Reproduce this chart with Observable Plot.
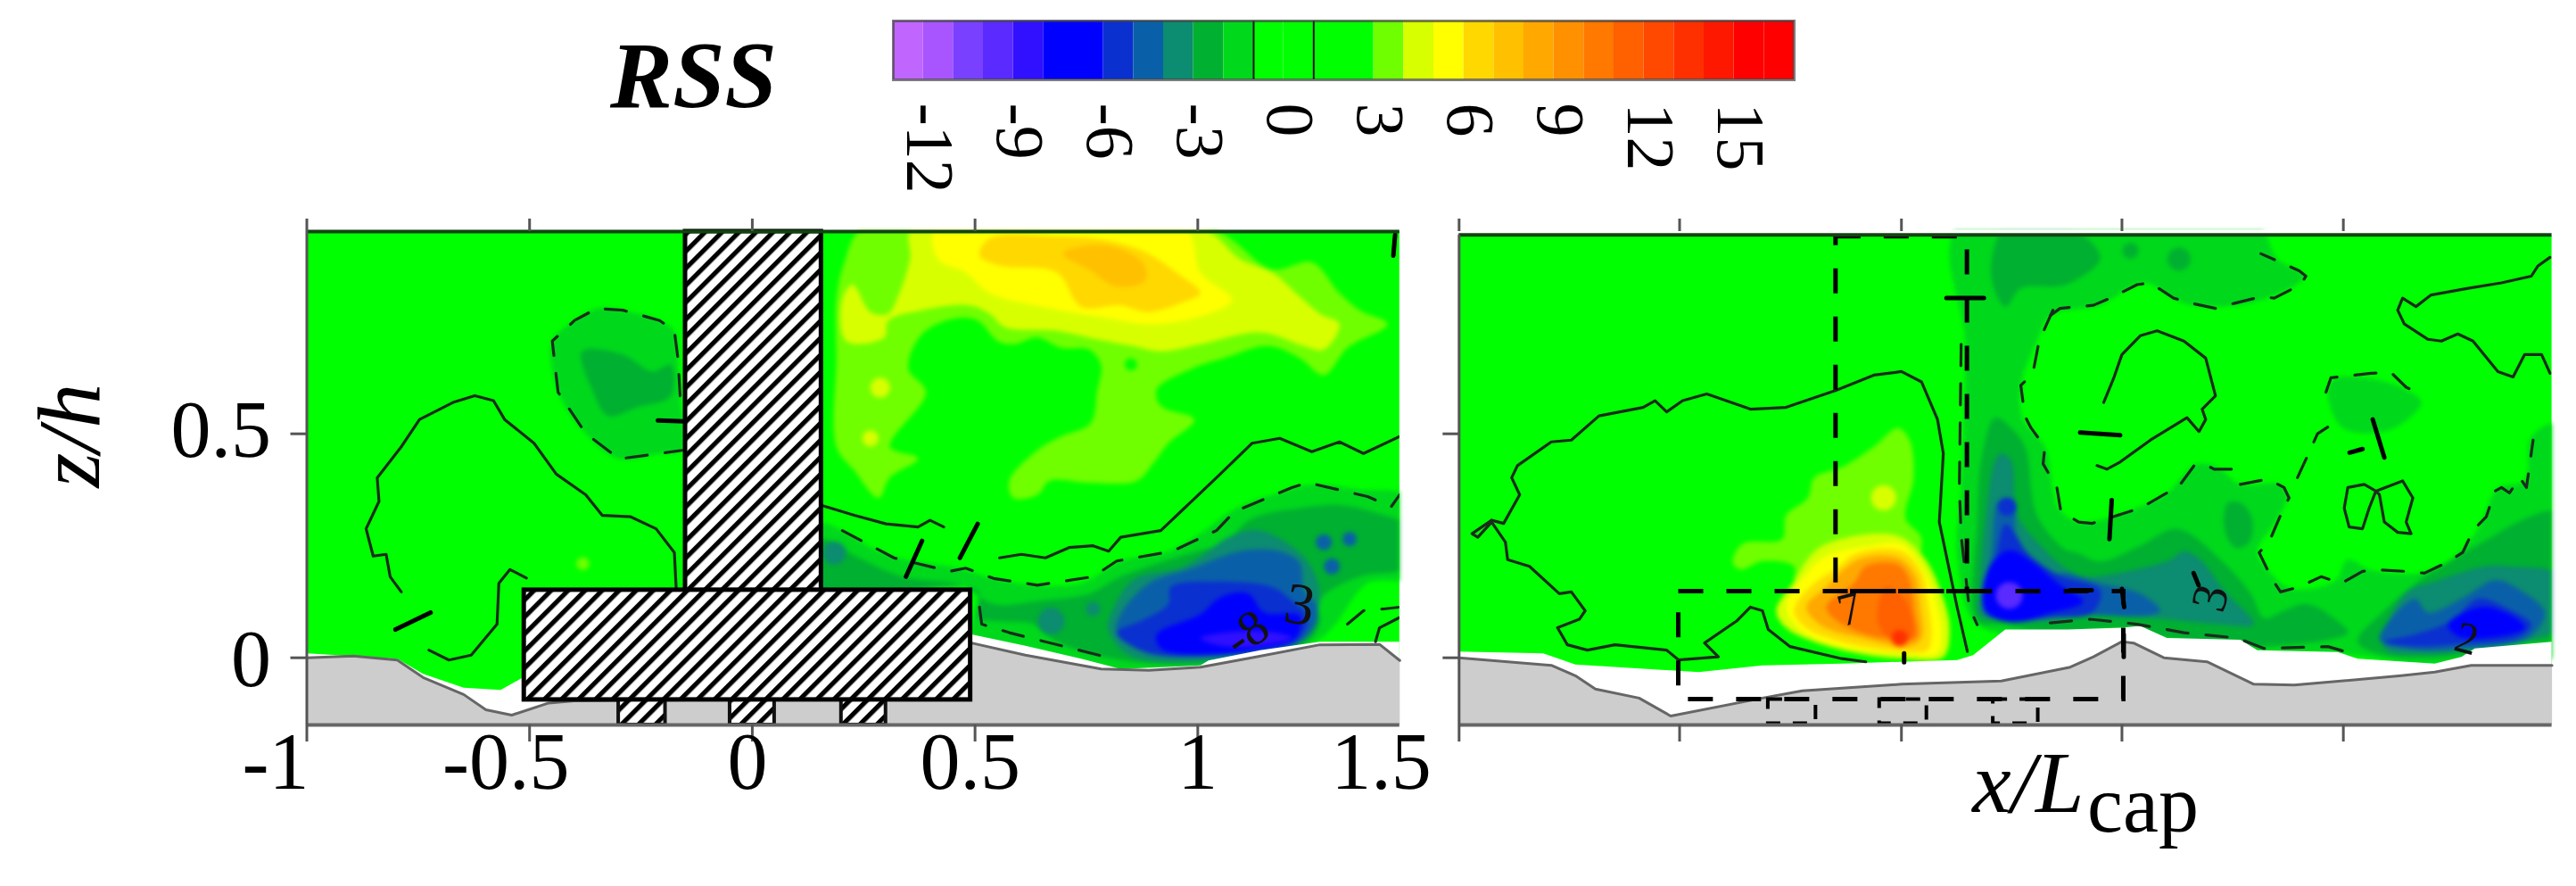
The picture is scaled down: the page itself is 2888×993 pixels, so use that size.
<!DOCTYPE html>
<html><head><meta charset="utf-8">
<script src="https://cdn.jsdelivr.net/npm/d3@7"></script>
<script src="https://cdn.jsdelivr.net/npm/@observablehq/plot@0.6"></script>
<style>
html,body{margin:0;padding:0;background:#fff;overflow:hidden}
svg{display:block}
</style></head><body><div id="c"></div>
<script>
// colour bar
const barEdges = d3.range(-13, 17);
const barThresholds = d3.range(-12, 17);
const barColors = ["#c066ff","#a855ff","#7a40ff","#5a2aff","#3010ff","#0000ff","#0000ff","#0a30d0","#0a60a8","#0c8c70","#00b030","#00d81c","#00ff00","#00ff00","#00ff00","#00ff00","#70ff00","#d8ff00","#ffff00","#ffd800","#ffc000","#ffa800","#ff9000","#ff7800","#ff6000","#ff4800","#ff3000","#ff1800","#ff0000","#ff0000"];
const barTicks = [-12,-9,-6,-3,0,3,6,9,12,15];
const barLines = [-1,1];

// axes
const xTicksLeft = [-1,-0.5,0,0.5,1];
const xTicksRight = [-1,-0.505,-0.007,0.488,0.985];
const xLabelText = ["-1","-0.5","0","0.5","1","1.5"];
const xLabelPos = [-1.07,-0.553,-0.011,0.489,1.0,1.412];
const yLabelText = ["0.5","0"];
const yLabelPos = [0.507,-0.006];

// left panel, positive band
const l3 = [[.251,.96],[.207,.883],[.189,.799],[.189,.669],[.189,.471],[.229,.418],[.283,.357],[.309,.403],[.372,.445],[.309,.471],[.390,.593],[.350,.646],[.381,.723],[.452,.757],[.506,.753],[.551,.707],[.586,.700],[.640,.715],[.693,.692],[.756,.688],[.783,.654],[.774,.593],[.760,.524],[.693,.494],[.640,.463],[.577,.395],[.586,.357],[.640,.364],[.667,.395],[.756,.391],[.863,.395],[.899,.433],[.934,.479],[.992,.532],[.917,.562],[.908,.600],[.988,.646],[1.059,.669],[1.158,.696],[1.229,.669],[1.283,.631],[1.336,.692],[1.426,.745],[1.363,.776],[1.318,.814],[1.256,.883],[1.167,.867],[1.024,.96]];
const l4 = [[.359,.96],[.354,.890],[.327,.806],[.305,.768],[.265,.772],[.225,.833],[.202,.799],[.211,.707],[.296,.715],[.305,.753],[.381,.776],[.488,.787],[.533,.768],[.568,.738],[.684,.730],[.774,.711],[.854,.696],[.917,.684],[1.006,.700],[1.122,.726],[1.167,.722],[1.238,.696],[1.283,.688],[1.318,.745],[1.274,.768],[1.229,.806],[1.167,.860],[1.095,.890],[1.006,.96]];
const l5 = [[.412,.96],[.417,.890],[.479,.860],[.533,.814],[.649,.784],[.783,.761],[.899,.745],[1.024,.768],[1.077,.799],[1.006,.860],[.970,.96]];
const l6 = [[.510,.898],[.559,.875],[.684,.860],[.738,.784],[.827,.787],[.890,.772],[.970,.795],[1.006,.814],[.952,.860],[.881,.906],[.792,.932],[.693,.940],[.533,.936]];
const l7 = [[.698,.902],[.756,.867],[.818,.829],[.881,.841],[.881,.875],[.827,.913],[.756,.921]];
// left panel, negative bands
const lp2 = [[-.162,.585],[-.167,.669],[-.175,.730],[-.208,.753],[-.291,.776],[-.349,.780],[-.399,.753],[-.449,.707],[-.436,.593],[-.374,.501],[-.299,.444],[-.208,.456],[-.158,.463]];
const lp3 = [[-.382,.684],[-.357,.593],[-.324,.540],[-.258,.559],[-.183,.585],[-.183,.654],[-.225,.639],[-.291,.677]];
const lb2 = [[.153,.299],[.202,.284],[.300,.231],[.461,.200],[.542,.177],[.640,.162],[.738,.166],[.827,.216],[.934,.238],[1.015,.284],[1.086,.334],[1.193,.372],[1.256,.387],[1.363,.376],[1.48,.357],[1.48,.181],[1.381,.166],[1.309,.075],[1.265,.036],[1.006,-.025],[.827,-.032],[.649,.014],[.497,.044],[.497,.151],[.153,.151]];
const lb3 = [[.153,.265],[.202,.242],[.336,.181],[.470,.162],[.542,.120],[.649,.128],[.756,.143],[.827,.181],[.961,.227],[1.059,.258],[1.122,.311],[1.229,.334],[1.318,.341],[1.390,.326],[1.48,.288],[1.48,.204],[1.363,.181],[1.274,.128],[1.274,.075],[1.238,.029],[1.015,-.013],[.827,-.005],[.684,.036],[.631,.075],[.542,.082],[.506,.090],[.506,.15],[.153,.15]];
const lb4 = [[.800,.082],[.854,.173],[.970,.204],[1.077,.273],[1.140,.284],[1.229,.235],[1.265,.181],[1.274,.128],[1.256,.075],[1.220,.029],[1.006,-.009],[.845,.006],[.800,.059]];
const lb5 = [[.818,.059],[.827,.097],[.890,.166],[.988,.200],[1.095,.238],[1.184,.238],[1.229,.212],[1.238,.151],[1.265,.120],[1.265,.075],[1.220,.029],[1.015,.002],[.881,.013]];
const lb6 = [[.818,.056],[.872,.082],[.934,.120],[.939,.158],[1.042,.170],[1.167,.158],[1.211,.128],[1.247,.090],[1.220,.036],[1.015,.006],[.881,.013]];
const lb7 = [[.908,.052],[1.006,.097],[1.051,.135],[1.113,.143],[1.149,.101],[1.229,.094],[1.220,.044],[1.122,.017],[1.006,.006],[.917,.021]];
const lb9 = [[1.006,.044],[1.095,.059],[1.175,.056],[1.211,.044],[1.122,.025],[1.042,.029]];

// right panel, hot blob
const r3 = [[-.015,.513],[-.069,.471],[-.141,.425],[-.203,.402],[-.217,.357],[-.266,.318],[-.275,.265],[-.364,.254],[-.386,.212],[-.368,.197],[-.319,.216],[-.248,.204],[-.248,.166],[-.230,.151],[-.007,.151],[.038,.265],[.002,.311],[.020,.402],[.011,.486]];
const r4 = [[-.288,.105],[-.248,.170],[-.212,.227],[-.176,.254],[-.069,.277],[-.007,.269],[.047,.219],[.083,.143],[.101,.067],[.087,.002],[-.007,-.002],[-.105,.010],[-.203,.036],[-.266,.067]];
const r5 = [[-.266,.113],[-.226,.181],[-.176,.227],[-.078,.250],[-.007,.254],[.038,.204],[.065,.143],[.083,.059],[.074,.010],[-.007,.010],[-.141,.025],[-.230,.059]];
const r6 = [[-.248,.105],[-.203,.166],[-.158,.196],[-.105,.234],[-.007,.238],[.038,.189],[.051,.128],[.060,.051],[.051,.017],[-.033,.017],[-.141,.036],[-.221,.067]];
const r8 = [[-.221,.113],[-.176,.158],[-.105,.219],[-.015,.223],[.025,.181],[.034,.120],[.038,.044],[.011,.025],[-.096,.044],[-.185,.071]];
const r10 = [[-.176,.113],[-.114,.166],[-.087,.204],[-.015,.208],[.011,.174],[.020,.113],[.025,.044],[-.051,.044],[-.141,.075]];
const r11 = [[-.060,.082],[-.042,.158],[.002,.128],[.016,.044],[-.033,.044]];
// right panel, negative bands
const rb2 = [[.119,.96],[.792,.96],[.837,.890],[.897,.852],[.815,.803],[.717,.784],[.627,.791],[.537,.837],[.439,.787],[.327,.764],[.297,.707],[.261,.608],[.266,.532],[.315,.471],[.346,.334],[.394,.303],[.537,.341],[.589,.368],[.657,.433],[.702,.425],[.754,.387],[.844,.387],[.859,.357],[.837,.311],[.792,.235],[.822,.189],[.867,.155],[.965,.170],[.995,.219],[1.047,.196],[1.152,.189],[1.227,.219],[1.287,.288],[1.332,.380],[1.392,.395],[1.407,.494],[1.48,.524],[1.48,.02],[1.190,-.017],[1.002,.006],[.777,.014],[.589,.036],[.488,.063],[.327,.052],[.163,.074],[.118,.227],[.127,.380],[.136,.700]];
const rb2b = [[.950,.593],[.965,.623],[1.047,.623],[1.122,.600],[1.160,.570],[1.107,.517],[1.040,.501],[.979,.517]];
const rt3 = [[.226,.96],[.194,.860],[.226,.784],[.261,.825],[.342,.829],[.372,.837],[.439,.890],[.409,.936],[.327,.96]];
const rl3 = [[.725,.345],[.72,.28],[.745,.245],[.775,.26],[.78,.31],[.755,.345]];
const rb3 = [[.154,.105],[.163,.303],[.172,.440],[.203,.536],[.235,.517],[.270,.471],[.297,.318],[.360,.242],[.387,.234],[.439,.215],[.529,.250],[.612,.288],[.709,.219],[.777,.143],[.807,.089],[.852,.105],[.905,.120],[.980,.075],[.995,.056],[.807,.025],[.589,.044],[.488,.063],[.327,.056],[.217,.074],[.168,.078]];
const rb4 = [[.168,.151],[.181,.303],[.203,.440],[.217,.456],[.239,.440],[.253,.318],[.306,.250],[.367,.196],[.402,.181],[.514,.196],[.597,.219],[.627,.238],[.664,.219],[.717,.151],[.784,.075],[.702,.075],[.552,.089],[.402,.093],[.327,.082],[.217,.082],[.168,.097]];
const rb5 = [[.172,.135],[.194,.227],[.212,.349],[.244,.349],[.253,.265],[.333,.189],[.364,.189],[.439,.166],[.529,.143],[.574,.105],[.537,.093],[.402,.097],[.327,.090],[.235,.086],[.181,.097]];
const rb6 = [[.176,.135],[.205,.225],[.226,.299],[.246,.280],[.275,.235],[.345,.185],[.44,.15],[.42,.10],[.327,.09],[.235,.08],[.185,.10]];
const rb7 = [[.175,.143],[.195,.21],[.235,.24],[.285,.215],[.345,.165],[.40,.125],[.327,.10],[.244,.08],[.185,.10]];
const rc3 = [[1.017,.036],[1.077,.105],[1.167,.181],[1.242,.227],[1.310,.265],[1.377,.303],[1.437,.326],[1.48,.326],[1.48,.051],[1.377,.032],[1.227,.002],[1.077,.006]];
const rc4 = [[1.122,.143],[1.190,.170],[1.302,.204],[1.362,.204],[1.48,.181],[1.48,.074],[1.392,.036],[1.265,.017],[1.167,.009],[1.077,.021]];
const rc5 = [[1.066,.040],[1.145,.132],[1.175,.101],[1.257,.136],[1.325,.173],[1.377,.154],[1.437,.101],[1.400,.044],[1.265,.021],[1.152,.017]];
const rc6 = [[1.077,.036],[1.145,.052],[1.227,.082],[1.287,.132],[1.347,.113],[1.407,.074],[1.377,.044],[1.227,.029],[1.145,.025]];
const rc7 = [[1.220,.075],[1.295,.113],[1.370,.090],[1.392,.066],[1.340,.048],[1.242,.048]];

// small patches: panel, x, z, radius, level
const spots = [
["left",.287,.603,11,4],["left",.265,.490,9,4],["left",.850,.655,7,-1],
["left",-.38,.21,7,3],["left",1.283,.258,9,-5],["left",1.341,.265,8,-5],["left",1.301,.204,9,-5],["left",.671,.082,15,-4],["left",.765,.109,8,-4],["left",.184,.234,13,-4],
["right",-.047,.357,14,4],["right",-.011,.044,9,13],["right",.235,.139,15,-10],["right",.230,.337,10,-6],["right",.616,.890,13,-3],["right",.507,.909,9,-3]];
const fieldBands = [
["left","l3",3,l3],["left","l4",4,l4],["left","l5",5,l5],["left","l6",6,l6],["left","l7",7,l7],
["left","lp2",-2,lp2],["left","lp3",-3,lp3],["left","lb2",-2,lb2],["left","lb3",-3,lb3],["left","lb4",-4,lb4],["left","lb5",-5,lb5],["left","lb6",-6,lb6],["left","lb7",-7,lb7],["left","lb9",-9,lb9],
["right","r3",3,r3],["right","r4",4,r4],["right","r5",5,r5],["right","r6",6,r6],["right","r8",8,r8],["right","r10",10,r10],["right","r11",11,r11],
["right","rb2",-2,rb2],["right","rb2b",-2,rb2b],["right","rt3",-3,rt3],["right","rl3",-3,rl3],["right","rb3",-3,rb3],["right","rb4",-4,rb4],["right","rb5",-5,rb5],["right","rb6",-6,rb6],["right","rb7",-7,rb7],
["right","rc3",-3,rc3],["right","rc4",-4,rc4],["right","rc5",-5,rc5],["right","rc6",-6,rc6],["right","rc7",-7,rc7]];

// bed and gap
const xEnd = 1.4534, zEnd = 0.9516, zBed = -0.15;
const leftFieldEdge = [[-1,.01],[-.797,-.002],[-.739,-.036],[-.648,-.067],[-.565,-.072],[-.515,-.044],[.492,.052],[.613,.027],[.738,-.002],[.827,-.025],[1.006,-.017],[1.024,-.006],[1.14,.017],[1.274,.036],[xEnd,.036]];
const leftBed = [[-1,0],[-.896,.004],[-.797,-.005],[-.739,-.044],[-.648,-.082],[-.598,-.116],[-.54,-.128],[-.457,-.101],[-.40,-.096],[.45,-.09],[.492,.033],[.613,.006],[.783,-.025],[.89,-.028],[1.006,-.021],[1.131,.002],[1.274,.029],[1.408,.030],[xEnd,-.006]];
const rightFieldEdge = [[-1,.014],[-.811,.010],[-.739,-.015],[-.462,-.032],[-.319,-.017],[-.141,-.013],[.118,-.005],[.154,.006],[.226,.063],[.367,.063],[.488,.067],[.529,.071],[.589,.044],[.754,.040],[.792,.017],[.972,.013],[1.017,-.002],[1.190,-.013],[1.250,.002],[1.280,.021],[xEnd,.036]];
const rightBed = [[-1,0],[-.793,-.017],[-.739,-.040],[-.694,-.070],[-.596,-.090],[-.525,-.130],[-.319,-.090],[-.230,-.074],[-.007,-.059],[.217,-.052],[.372,-.021],[.424,.002],[.488,.036],[.514,.033],[.582,0],[.679,-.009],[.784,-.059],[.875,-.061],[1.115,-.040],[1.190,-.032],[1.272,-.017],[xEnd,-.017]];

// contour lines
const solidLines = [
["left",[[-.788,.147],[-.813,.181],[-.822,.231],[-.851,.227],[-.867,.288],[-.838,.349],[-.842,.402],[-.788,.471],[-.747,.532],[-.672,.570],[-.623,.585],[-.581,.574],[-.556,.532],[-.490,.479],[-.440,.410],[-.374,.364],[-.337,.318],[-.274,.315],[-.216,.288],[-.175,.235],[-.171,.158]]],
["left",[[-.726,.017],[-.681,-.005],[-.631,.006],[-.573,.075],[-.569,.166],[-.544,.197],[-.507,.178]]],
["left",[[.153,.341],[.229,.318],[.300,.299],[.372,.292],[.399,.307],[.430,.292]]],
["left",[[.555,.223],[.604,.231],[.658,.223],[.711,.246],[.765,.250],[.800,.238],[.827,.269],[.917,.284],[.970,.334],[1.042,.402],[1.122,.479],[1.184,.490],[1.256,.460],[1.318,.482],[1.372,.456],[1.4534,.494]]],
["left",[[1.4534,.090],[1.408,.067],[1.399,.036]]],
["right",[[-.927,.307],[-.971,.277],[-.958,.269],[-.927,.303],[-.896,.258],[-.891,.219],[-.842,.204],[-.775,.143],[-.748,.147],[-.717,.105],[-.730,.086],[-.779,.067],[-.757,.029],[-.712,.017],[-.650,.029],[-.534,.017],[-.507,-.005],[-.418,.002],[-.449,.033],[-.377,.082],[-.346,.113],[-.319,.105],[-.306,.063],[-.257,.025],[-.141,-.002],[-.087,-.009]]],
["right",[[-.927,.307],[-.900,.300],[-.864,.364],[-.882,.402],[-.869,.429],[-.793,.482],[-.748,.486],[-.686,.540],[-.587,.559],[-.560,.574],[-.534,.549],[-.498,.574],[-.444,.589],[-.346,.555],[-.266,.559],[-.154,.597],[-.069,.631],[-.007,.639],[.038,.616],[.074,.532],[.087,.456],[.078,.303],[.118,.113],[.141,.014]]],
["right",[[.447,.570],[.469,.623],[.488,.677],[.529,.719],[.567,.730],[.627,.707],[.676,.669],[.698,.585],[.668,.555],[.676,.532],[.661,.505],[.634,.536],[.552,.486],[.484,.437],[.454,.421],[.432,.429]]],
["right",[[1.449,.894],[1.422,.875],[1.407,.852],[1.340,.837],[1.265,.825],[1.182,.810],[1.148,.784],[1.118,.803],[1.107,.776],[1.122,.745],[1.175,.711],[1.205,.707],[1.242,.723],[1.276,.707],[1.332,.639],[1.366,.627],[1.392,.677],[1.430,.677],[1.449,.635]]],
["right",[[1.058,.372],[1.032,.387],[.995,.380],[.987,.334],[.998,.292],[1.028,.288],[1.043,.334],[1.058,.372],[1.118,.395],[1.141,.357],[1.126,.303],[1.137,.277],[1.107,.280],[1.077,.303],[1.066,.364],[1.058,.372]]]];
const dashedLines = [
["left",[[-.162,.585],[-.167,.669],[-.175,.730],[-.208,.753],[-.291,.776],[-.349,.780],[-.399,.753],[-.449,.707],[-.436,.593],[-.374,.501],[-.299,.444],[-.208,.456],[-.158,.463]]],
["left",[[.202,.284],[.318,.223],[.443,.193],[.479,.200],[.542,.177],[.640,.162],[.765,.181],[.818,.216],[.943,.238],[1.042,.284],[1.082,.326],[1.211,.380],[1.247,.391],[1.381,.360],[1.434,.337],[1.4534,.364]]],
["left",[[.510,.113],[.515,.075],[.577,.056],[.809,-.002]]],
["left",[[1.336,.075],[1.372,.105],[1.417,.109],[1.4534,.113]]],
["right",[[.327,.764],[.349,.780],[.424,.787],[.462,.803],[.522,.833],[.552,.837],[.604,.803],[.646,.791],[.698,.780],[.739,.791],[.800,.806],[.830,.803],[.889,.833],[.901,.852],[.886,.864],[.837,.886],[.800,.902]]],
["right",[[.333,.776],[.302,.707],[.288,.635],[.261,.608],[.270,.540],[.284,.513],[.315,.471],[.311,.433],[.342,.380],[.351,.326],[.391,.303],[.421,.300],[.529,.334],[.582,.364],[.616,.383],[.650,.429],[.672,.433],[.695,.421],[.736,.421],[.754,.387],[.815,.399],[.852,.380],[.863,.357],[.844,.318],[.818,.258],[.796,.235],[.811,.204],[.826,.174],[.844,.147],[.886,.158],[.935,.181],[.980,.166],[1.028,.193],[1.070,.196],[1.122,.193],[1.167,.189],[1.216,.212],[1.253,.235],[1.276,.284],[1.306,.315],[1.325,.372],[1.340,.380],[1.358,.368],[1.381,.402],[1.396,.380],[1.411,.486]]],
["right",[[.327,.078],[.417,.086],[.522,.075],[.627,.056],[.747,.044],[.807,.021],[.950,.025],[1.002,.010]]],
["right",[[.882,.402],[.927,.500],[.950,.515]]],
["right",[[.946,.593],[.957,.625],[1.047,.635],[1.092,.637],[1.126,.604],[1.167,.585]]],
["right",[[.127,.700],[.123,.380],[.127,.273],[.145,.113],[.163,.074]]]];
const thickBars = [
["left",[[-.801,.063],[-.722,.101]]],["left",[[-.212,.530],[-.150,.528]]],["left",[[.345,.181],[.381,.261]]],["left",[[.466,.223],[.506,.299]]],["left",[[1.439,.898],[1.443,.944]]],
["right",[[.094,.803],[.178,.803]]],["right",[[-.001,.010],[-.001,-.010]]],["right",[[.394,.503],[.484,.497]]],["right",[[.465,.352],[.460,.265]]],["right",[[1.051,.532],[1.077,.447]]],["right",[[.999,.458],[1.028,.466]]],
["right",[[.372,.151],[.420,.151]]],["right",[[.488,.154],[.493,.113]]],["right",[[.492,.052],[.492,.002]]],["right",[[.649,.189],[.660,.162]]]];
const contourLabels = [["left",1.229,.118,"3",10,66],["left",1.109,.055,"-8",-35,56],["right",-.123,.108,"7",-15,52],["right",.687,.133,"3",-75,56],["right",1.262,.042,"2",15,50]];

// cap structure
const walls = [{x1:-.15,x2:.155,z1:.15,z2:zEnd}];
const footing = [{x1:-.512,x2:.49,z1:-.094,z2:.151}];
const piles = [{x1:-.30,x2:-.195},{x1:-.05,x2:.05},{x1:.2,x2:.30}];
const ghostCap = [{x1:-.154,x2:.141,z1:.148,z2:.94},{x1:-.507,x2:.492,z1:-.093,z2:.148}];
const ghostPiles = [{x1:-.306,x2:-.199,z1:-.147,z2:-.093},{x1:-.056,x2:.05,z1:-.147,z2:-.093},{x1:.199,x2:.30,z1:-.147,z2:-.093}];

const serif = "'Liberation Serif','Times New Roman',serif";
const colorOpts = {type:"threshold",domain:barThresholds,range:barColors};
const toRows = (panel,name,level,pts)=>pts.map(([x,h])=>({panel,name,level,x,h}));
const fieldRows = fieldBands.flatMap(([p,n,l,a])=>toRows(p,n,l,a));
const lineRows = (list,tag)=>list.flatMap(([p,a],i)=>toRows(p,tag+i,0,a));
const closeBelow = (a)=>[...a,[xEnd,-.17],[-1,-.17]];
const closeBed = (a)=>[...a,[xEnd,zBed],[-1,zBed]];
const gapRows = [...toRows("left","a",0,closeBelow(leftFieldEdge)),...toRows("right","b",0,closeBelow(rightFieldEdge))];
const bedRows = [...toRows("left","a",0,closeBed(leftBed)),...toRows("right","b",0,closeBed(rightBed))];
const edgeRows = [...toRows("left","a",0,leftBed),...toRows("right","b",0,rightBed)];
const panels = [{panel:"left",top:zEnd,level:-1},{panel:"right",top:.944,level:-1}];
const xTickRows = [...xTicksLeft.map(x=>({panel:"left",x})),...xTicksRight.map(x=>({panel:"right",x}))];
const yTickRows = ["left","right"].flatMap(panel=>[0,.5].map(h=>({panel,h})));
const xLabels = xLabelText.map((t,i)=>({panel:"left",t,x:xLabelPos[i]}));
const yLabels = yLabelText.map((t,i)=>({panel:"left",t,h:yLabelPos[i]}));
const axisStroke = "#555";

const legend = Plot.plot({
  width:2888,height:245,marginTop:23,marginBottom:156,marginLeft:1001,marginRight:877,
  x:{domain:[-13,17],axis:null},color:colorOpts,
  marks:[
    Plot.barX(barEdges,{x1:d=>d,x2:d=>d+1,fill:d=>d}),
    Plot.ruleX(barLines,{x:d=>d,stroke:"#111",strokeWidth:2}),
    Plot.frame({stroke:"#444",strokeOpacity:.7,strokeWidth:3}),
    Plot.text(barTicks,{x:d=>d,text:d=>String(d),rotate:90,textAnchor:"start",frameAnchor:"bottom",dx:-18,dy:26,fontSize:76,fontFamily:serif,fill:"#000"}),
    Plot.text(["RSS"],{text:d=>d,frameAnchor:"left",textAnchor:"middle",dx:-224,dy:30,fontSize:105,fontWeight:"bold",fontStyle:"italic",fontFamily:serif,fill:"#000"})
  ]
});

const chart = Plot.plot({
  width:2888,height:748,marginTop:14,marginBottom:181,marginLeft:343.5,marginRight:27.4,
  x:{domain:[-1,xEnd],axis:null},y:{domain:[zBed,zEnd],axis:null},r:{type:"identity"},
  fx:{domain:["left","right"],axis:null,paddingInner:.0515,paddingOuter:0,round:false},
  color:colorOpts,
  marks:[
    Plot.rect(panels,{fx:"panel",x1:-1,x2:xEnd,y1:zBed,y2:"top",fill:"level"}),
    Plot.line(fieldRows,{x:"x",y:"h",z:"name",fx:"panel",fill:"level",stroke:"none",curve:"catmull-rom-closed",clip:"frame"}),
    Plot.dot(spots,{fx:d=>d[0],x:d=>d[1],y:d=>d[2],r:d=>d[3],fill:d=>d[4],stroke:"none"}),
    Plot.ruleY([{panel:"right",h:.9485}],{fx:"panel",y:"h",x1:-1.01,x2:xEnd+.01,stroke:"#fff",strokeWidth:7}),
    Plot.line(gapRows,{x:"x",y:"h",z:"name",fx:"panel",fill:"#fff",stroke:"none",clip:"frame"}),
    Plot.line(bedRows,{x:"x",y:"h",z:"name",fx:"panel",fill:"#cdcdcd",stroke:"none"}),
    Plot.line(edgeRows,{x:"x",y:"h",z:"name",fx:"panel",stroke:"#666",strokeWidth:3}),
    Plot.line(lineRows(solidLines,"s"),{x:"x",y:"h",z:"name",fx:"panel",stroke:"#1c2c1c",strokeWidth:3.2,clip:"frame"}),
    Plot.line(lineRows(dashedLines,"d"),{x:"x",y:"h",z:"name",fx:"panel",stroke:"#1c2c1c",strokeWidth:3.2,strokeDasharray:"24,20",clip:"frame"}),
    Plot.line(lineRows(thickBars,"t"),{x:"x",y:"h",z:"name",fx:"panel",stroke:"#000",strokeWidth:5}),
    Plot.text(contourLabels,{fx:d=>d[0],x:d=>d[1],y:d=>d[2],text:d=>d[3],rotate:d=>d[4],fontSize:d=>d[5],fontFamily:serif,fill:"#111"}),
    // structure, left: hatched
    Plot.rect(piles,{fx:()=>"left",x1:"x1",x2:"x2",y1:zBed,y2:-.094,fill:"url(#hatch)",stroke:"#111",strokeWidth:4}),
    Plot.rect(walls,{fx:()=>"left",x1:"x1",x2:"x2",y1:"z1",y2:"z2",fill:"url(#hatch)",stroke:"#000",strokeWidth:5}),
    Plot.rect(footing,{fx:()=>"left",x1:"x1",x2:"x2",y1:"z1",y2:"z2",fill:"url(#hatch)",stroke:"#000",strokeWidth:5}),
    // structure, right: dashed outline
    Plot.rect(ghostCap,{fx:()=>"right",x1:"x1",x2:"x2",y1:"z1",y2:"z2",fill:"none",stroke:"#000",strokeWidth:5,strokeDasharray:"28,26"}),
    Plot.rect(ghostPiles,{fx:()=>"right",x1:"x1",x2:"x2",y1:"z1",y2:"z2",fill:"none",stroke:"#000",strokeWidth:4,strokeDasharray:"16,14"}),
    // frame and ticks
    Plot.ruleY(panels,{fx:"panel",y:"top",x1:-1,x2:xEnd,stroke:"#114411",strokeWidth:4}),
    Plot.ruleY(panels,{fx:"panel",y:zBed,x1:-1,x2:xEnd,stroke:"#666",strokeWidth:4}),
    Plot.ruleX(panels,{fx:"panel",x:-1,y1:zBed,y2:"top",stroke:axisStroke,strokeWidth:3}),
    Plot.ruleX(xTickRows,{fx:"panel",x:"x",y1:zBed,y2:-.188,stroke:axisStroke,strokeWidth:3}),
    Plot.ruleX(xTickRows,{fx:"panel",x:"x",y1:.9516,y2:.986,stroke:axisStroke,strokeWidth:3}),
    Plot.ruleY(yTickRows,{fx:"panel",y:"h",x1:-1,x2:-1.036,stroke:axisStroke,strokeWidth:3}),
    // text
    Plot.text(xLabels,{fx:"panel",x:"x",text:"t",frameAnchor:"bottom",dy:71,fontSize:90,fontFamily:serif,fill:"#000"}),
    Plot.text(yLabels,{fx:"panel",y:"h",text:"t",frameAnchor:"left",dx:-40,textAnchor:"end",fontSize:90,fontFamily:serif,fill:"#000"}),
    Plot.text(["z/h"],{fx:()=>"left",y:()=>.38,text:d=>d,frameAnchor:"left",dx:-265,rotate:-90,fontSize:100,fontStyle:"italic",fontFamily:serif,fill:"#000"}),
    Plot.text(["x/L"],{fx:()=>"right",x:()=>.403,text:d=>d,frameAnchor:"bottom",dy:97,textAnchor:"end",lineAnchor:"bottom",fontSize:98,fontStyle:"italic",fontFamily:serif,fill:"#000"}),
    Plot.text(["cap"],{fx:()=>"right",x:()=>.41,text:d=>d,frameAnchor:"bottom",dy:119,textAnchor:"start",lineAnchor:"bottom",fontSize:90,fontFamily:serif,fill:"#000"})
  ]
});

// stripe pattern for the cap
const ns = "http://www.w3.org/2000/svg";
const defs = document.createElementNS(ns,"defs");
defs.innerHTML = '<pattern id="hatch" patternUnits="userSpaceOnUse" width="13.5" height="13.5" patternTransform="rotate(45)"><rect width="13.5" height="13.5" fill="#fff"/><rect width="5.2" height="13.5" fill="#000"/></pattern>';
chart.prepend(defs);
// soften the filled bands the way the source contour plot is softened
const bandGroup = chart.querySelector('g[aria-label="line"]');
const spotGroup = chart.querySelector('g[aria-label="dot"]');
if (bandGroup) bandGroup.style.filter = "blur(2.5px)";
if (spotGroup) spotGroup.style.filter = "blur(2.5px)";
chart.style.filter = "blur(0.6px)";
document.getElementById("c").append(legend,chart);
</script></body></html>
